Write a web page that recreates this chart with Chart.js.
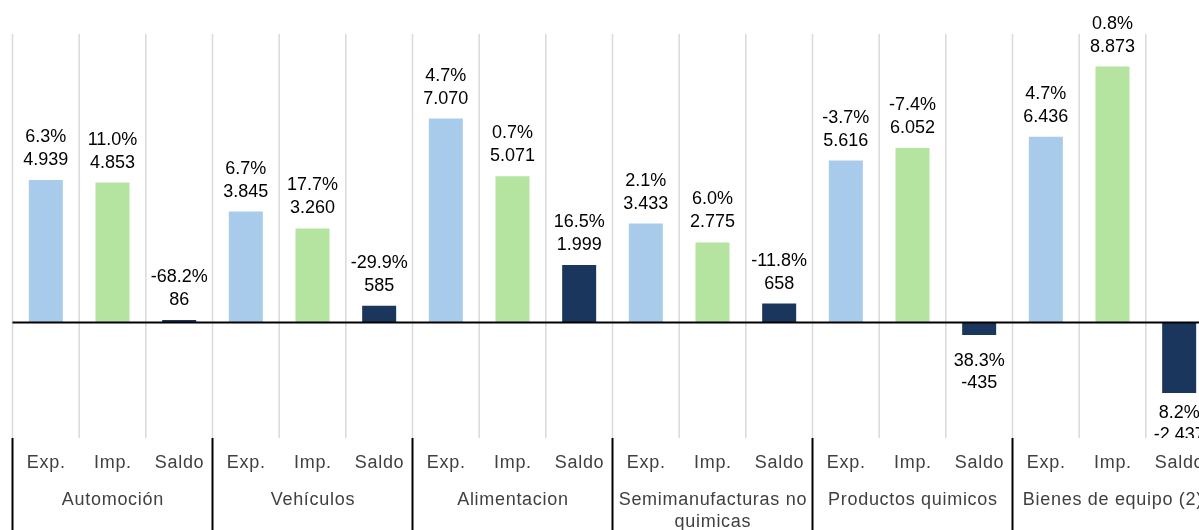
<!DOCTYPE html>
<html>
<head>
<meta charset="utf-8">
<script src="https://cdn.jsdelivr.net/npm/chart.js@4/dist/chart.umd.min.js"></script>
<style>
html,body{margin:0;padding:0;background:#fff;overflow:hidden;width:1199px;height:530px;}
#wrap{position:relative;width:1225px;height:530px;}
</style>
</head>
<body>
<div id="wrap"><canvas id="c"></canvas></div>
<script>
const groups = ["Automoción", "Vehículos", "Alimentacion", ["Semimanufacturas no", "quimicas"], "Productos quimicos", "Bienes de equipo (2)"];
const subLabels = ["Exp.", "Imp.", "Saldo"];
const expValues = [4939, 3845, 7070, 3433, 5616, 6436];
const impValues = [4853, 3260, 5071, 2775, 6052, 8873];
const saldoValues = [86, 585, 1999, 658, -435, -2437];
const expPct = ["6.3%", "6.7%", "4.7%", "2.1%", "-3.7%", "4.7%"];
const impPct = ["11.0%", "17.7%", "0.7%", "6.0%", "-7.4%", "0.8%"];
const saldoPct = ["-68.2%", "-29.9%", "16.5%", "-11.8%", "38.3%", "8.2%"];
const yMin = -4000, yMax = 10000;

const colors = ["#A9CBEB", "#B5E4A1", "#1B365D"];

const labels = [], values = [], pcts = [], bg = [];
groups.forEach((g, i) => {
  [expValues[i], impValues[i], saldoValues[i]].forEach((v, j) => {
    labels.push(subLabels[j]);
    values.push(v);
    pcts.push([expPct, impPct, saldoPct][j][i]);
    bg.push(colors[j]);
  });
});

function fmt(v) {
  const s = Math.abs(v).toString();
  const t = s.replace(/\B(?=(\d{3})+(?!\d))/g, ".");
  return (v < 0 ? "-" : "") + t;
}

const FONT = '18px "Liberation Sans", Arial, sans-serif';

const drawPlugin = {
  id: 'custom',
  beforeDatasetsDraw(chart) {
    const ctx = chart.ctx, ca = chart.chartArea, xs = chart.scales.x;
    const step = xs.getPixelForValue(1) - xs.getPixelForValue(0);
    ctx.save();
    ctx.strokeStyle = "#D9D9D9";
    ctx.lineWidth = 1.5;
    for (let i = 0; i <= labels.length; i++) {
      const x = xs.getPixelForValue(0) - step / 2 + i * step;
      ctx.beginPath();
      ctx.moveTo(x, ca.top);
      ctx.lineTo(x, ca.bottom);
      ctx.stroke();
    }
    ctx.restore();
  },
  afterDatasetsDraw(chart) {
    const ctx = chart.ctx, ca = chart.chartArea, xs = chart.scales.x, ys = chart.scales.y;
    const step = xs.getPixelForValue(1) - xs.getPixelForValue(0);
    const y0 = ys.getPixelForValue(0);
    ctx.save();
    // zero line
    ctx.strokeStyle = "#000";
    ctx.lineWidth = 2;
    ctx.beginPath();
    ctx.moveTo(ca.left, y0);
    ctx.lineTo(ca.right, y0);
    ctx.stroke();

    // data labels
    ctx.save();
    ctx.beginPath();
    ctx.rect(0, 0, chart.width, ca.bottom);
    ctx.clip();
    ctx.font = FONT;
    ctx.fillStyle = "#000";
    ctx.textAlign = "center";
    ctx.textBaseline = "alphabetic";
    const meta = chart.getDatasetMeta(0);
    meta.data.forEach((bar, i) => {
      const v = values[i];
      const x = bar.x;
      if (v >= 0) {
        const top = ys.getPixelForValue(v);
        ctx.fillText(fmt(v), x, top - 15);
        ctx.fillText(pcts[i], x, top - 38);
      } else {
        const bottom = ys.getPixelForValue(v);
        const b1 = Math.min(bottom + 31, ca.bottom - 20);
        ctx.fillText(pcts[i], x, b1);
        ctx.fillText(fmt(v), x, b1 + 22);
      }
    });
    ctx.restore();

    // axis labels
    ctx.font = FONT;
    ctx.fillStyle = "#404040";
    ctx.textAlign = "center";
    ctx.textBaseline = "middle";
    try { ctx.letterSpacing = "0.7px"; } catch (e) {}
    labels.forEach((l, i) => {
      ctx.fillText(l, xs.getPixelForValue(i) + 0.4, ca.bottom + 25);
    });
    groups.forEach((g, gi) => {
      const xc = (xs.getPixelForValue(gi * 3) + xs.getPixelForValue(gi * 3 + 2)) / 2;
      const lines = Array.isArray(g) ? g : [g];
      lines.forEach((ln, k) => ctx.fillText(ln, xc + 0.4, ca.bottom + 62 + k * 22));
    });
    try { ctx.letterSpacing = "0px"; } catch (e) {}
    // group separators
    ctx.strokeStyle = "#000";
    ctx.lineWidth = 2;
    for (let gi = 0; gi <= groups.length; gi++) {
      const x = xs.getPixelForValue(gi * 3) - step / 2;
      ctx.beginPath();
      ctx.moveTo(x, ca.bottom);
      ctx.lineTo(x, chart.height);
      ctx.stroke();
    }
    ctx.restore();
  }
};

new Chart(document.getElementById('c'), {
  type: 'bar',
  data: {
    labels: labels,
    datasets: [{
      data: values,
      backgroundColor: bg,
      borderWidth: 0,
      barPercentage: 0.51,
      categoryPercentage: 1.0
    }]
  },
  options: {
    responsive: true,
    maintainAspectRatio: false,
    animation: false,
    events: [],
    layout: { padding: { left: 12.5, right: 12.5, top: 34, bottom: 92 } },
    plugins: { legend: { display: false }, tooltip: { enabled: false } },
    scales: {
      x: { display: false, offset: true },
      y: { display: false, min: yMin, max: yMax }
    }
  },
  plugins: [drawPlugin]
});
</script>
</body>
</html>
